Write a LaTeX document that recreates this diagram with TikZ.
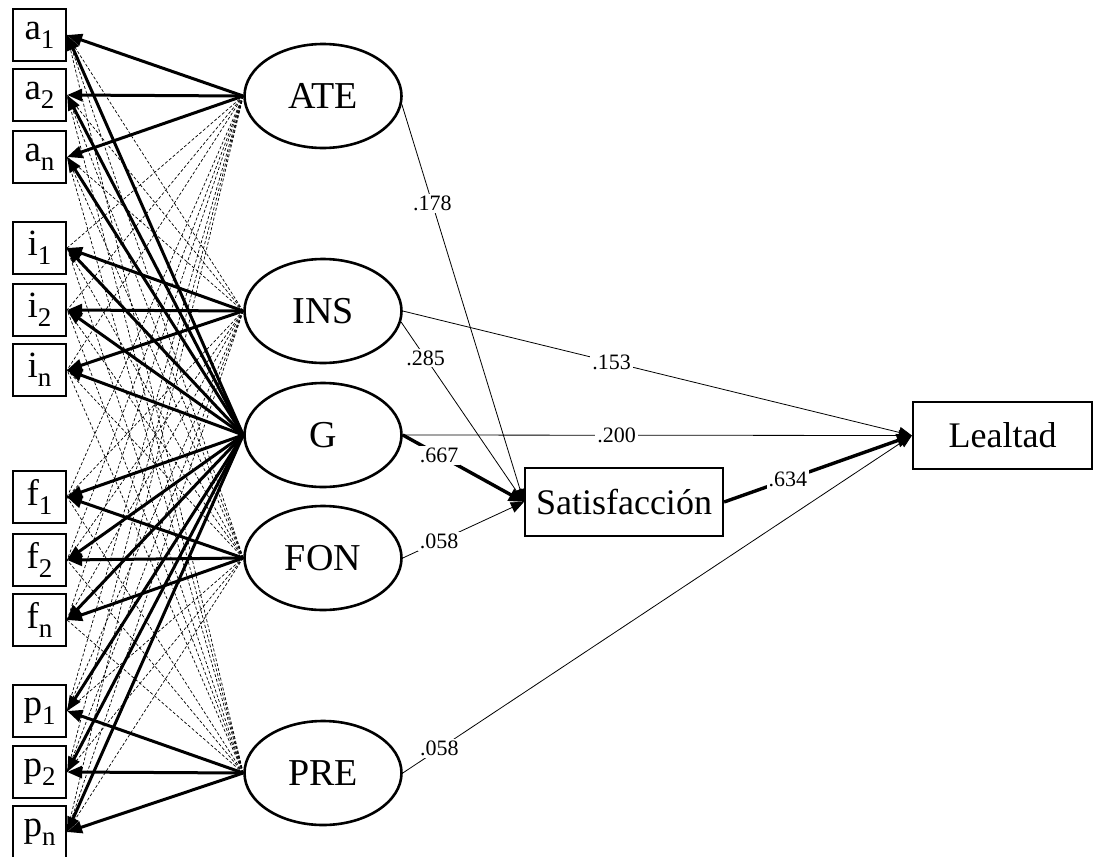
\documentclass[tikz,border=0pt]{standalone}
\usepackage{fontspec}
\setmainfont{Liberation Serif}
\usetikzlibrary{shapes.geometric,arrows.meta}
\newcommand\subidx[1]{\raisebox{-0.25em}{\fontsize{27}{27}\selectfont #1}}
\begin{document}
\begin{tikzpicture}[x=1pt,y=-1pt,
  ind/.style={draw,line width=2.2pt,minimum width=53pt,minimum height=52pt,inner sep=0pt,font=\fontsize{37}{37}\selectfont},
  lat/.style={draw,ellipse,line width=2.6pt,minimum width=157pt,minimum height=104pt,inner sep=0pt,font=\fontsize{38}{38}\selectfont},
  obs/.style={draw,line width=2.2pt,inner sep=0pt,font=\fontsize{36}{36}\selectfont},
  load/.style={line width=3pt,-{Triangle[length=15pt,width=12pt]}},
  cross/.style={line width=0.7pt,dash pattern=on 3pt off 2pt},
  reg/.style={line width=0.8pt,-{Triangle[length=13pt,width=11pt]}},
  strong/.style={line width=3.4pt,-{Triangle[length=15pt,width=13pt]}},
  coef/.style={fill=white,inner sep=2pt,font=\fontsize{22}{22}\selectfont}]
\useasboundingbox (0,0) rectangle (1104,857);
% indicators
\node[ind] (a1) at (39.5,35) {a\subidx{1}};
\node[ind] (a2) at (39.5,95) {a\subidx{2}};
\node[ind] (a3) at (39.5,157) {a\subidx{n}};
\node[ind] (i1) at (39.5,248) {i\subidx{1}};
\node[ind] (i2) at (39.5,310) {i\subidx{2}};
\node[ind] (i3) at (39.5,370) {i\subidx{n}};
\node[ind] (f1) at (39.5,497) {f\subidx{1}};
\node[ind] (f2) at (39.5,560) {f\subidx{2}};
\node[ind] (f3) at (39.5,620) {f\subidx{n}};
\node[ind] (p1) at (39.5,711) {p\subidx{1}};
\node[ind] (p2) at (39.5,772) {p\subidx{2}};
\node[ind] (p3) at (39.5,832) {p\subidx{n}};
% latents
\node[lat] (ATE) at (323,96) {ATE};
\node[lat] (INS) at (323,311) {INS};
\node[lat] (G) at (323,435) {G};
\node[lat] (FON) at (323,558) {FON};
\node[lat] (PRE) at (323,773) {PRE};
% observed outcomes
\node[obs,minimum width=198pt,minimum height=68pt] (Sat) at (624,502) {Satisfacción};
\node[obs,minimum width=179pt,minimum height=67pt] (Leal) at (1002.5,435.5) {Lealtad};
% cross loadings (dashed)
\foreach \g in {i,f,p} \foreach \k in {1,2,3} \draw[cross] (ATE.west) -- (\g\k.east);
\foreach \g in {a,f,p} \foreach \k in {1,2,3} \draw[cross] (INS.west) -- (\g\k.east);
\foreach \g in {a,i,p} \foreach \k in {1,2,3} \draw[cross] (FON.west) -- (\g\k.east);
\foreach \g in {a,i,f} \foreach \k in {1,2,3} \draw[cross] (PRE.west) -- (\g\k.east);
% loadings
\foreach \k in {1,2,3} \draw[load] (ATE.west) -- (a\k.east);
\foreach \k in {1,2,3} \draw[load] (INS.west) -- (i\k.east);
\foreach \k in {1,2,3} \draw[load] (FON.west) -- (f\k.east);
\foreach \k in {1,2,3} \draw[load] (PRE.west) -- (p\k.east);
\foreach \g in {a,i,f,p} \foreach \k in {1,2,3} \draw[load] (G.west) -- (\g\k.east);
% structural paths
\draw[reg] (ATE.-6) -- node[coef,pos=0.25] {.178} (Sat.west);
\draw[reg] (INS.-8) -- node[coef,pos=0.2] {.285} (Sat.west);
\draw[reg] (INS.east) -- node[coef,pos=0.41] {.153} (Leal.west);
\draw[reg] (G.east) -- node[coef,pos=0.42] {.200} (Leal.west);
\draw[strong] (G.east) -- node[coef,pos=0.3] {.667} (Sat.west);
\draw[reg] (FON.east) -- node[coef,pos=0.3] {.058} (Sat.west);
\draw[strong] (Sat.east) -- node[coef,pos=0.34] {.634} (Leal.west);
\draw[reg] (PRE.east) -- node[coef,pos=0.072] {.058} (Leal.west);
\end{tikzpicture}
\end{document}
